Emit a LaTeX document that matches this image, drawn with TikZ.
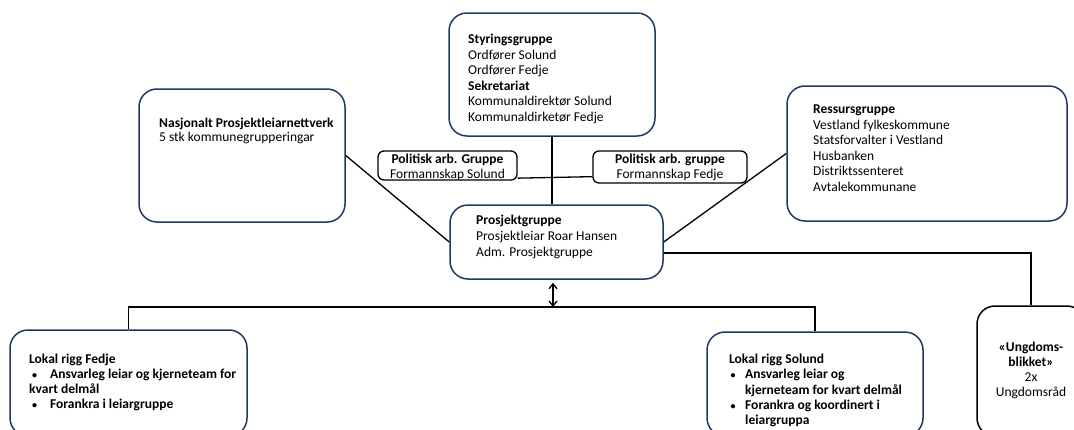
\documentclass[tikz,border=0pt]{standalone}
\usepackage{fontspec}
\setmainfont{Carlito}
\usetikzlibrary{arrows.meta,calc}
\definecolor{navy}{RGB}{32,56,100}
\newcommand\bulA{\makebox[21pt][l]{\hspace{3pt}{\fontsize{10}{10}\selectfont\textbullet}}}
\newcommand\bulB{\makebox[16pt][l]{\hspace{1.5pt}{\fontsize{10}{10}\selectfont\textbullet}}}
\tikzset{
  box/.style={draw=navy, line width=1.5pt, rounded corners=18pt, inner sep=0pt},
  smallbox/.style={draw=black, line width=1.3pt, rounded corners=6pt, inner sep=0pt},
  blackbox/.style={draw=black, line width=1.5pt, rounded corners=18pt, inner sep=0pt},
  txt/.style={anchor=base west, inner sep=0pt, font=\fontsize{13.5}{15.6}\selectfont},
  ctxt/.style={anchor=base, inner sep=0pt, font=\fontsize{13.5}{15}\selectfont},
  conn/.style={line width=1.3pt, draw=black},
  >={Straight Barb[length=5pt,width=8pt]}
}
\begin{document}
\begin{tikzpicture}[x=1pt,y=-1pt]
\useasboundingbox (0,0) rectangle (1074,429);
\clip (0,0) rectangle (1074,429);
% boxes
\node[box, minimum width=206pt, minimum height=123pt] (sty) at (552,74.5) {};
\node[box, minimum width=206pt, minimum height=133pt] (nas) at (242,155.5) {};
\node[box, minimum width=280pt, minimum height=135pt] (res) at (927,153.5) {};
\node[smallbox, minimum width=139pt, minimum height=29pt] (pl) at (447.5,165.5) {};
\node[smallbox, minimum width=154pt, minimum height=32pt] (pr) at (670,167) {};
\node[box, minimum width=213pt, minimum height=74pt] (pro) at (556.5,242) {};
\node[box, minimum width=237pt, minimum height=106pt] (fed) at (128.5,383) {};
\node[box, minimum width=216pt, minimum height=104pt] (sol) at (815,384) {};
\node[blackbox, minimum width=108pt, minimum height=130pt] (ung) at (1031,371) {};
% texts
\node[txt] (styt) at (468,43.5) {\begin{tabular}[t]{@{}l@{}}\textbf{Styringsgruppe}\\Ordfører Solund\\Ordfører Fedje\\\textbf{Sekretariat}\\Kommunaldirektør Solund\\Kommunaldirketør Fedje\end{tabular}};
\node[txt, font=\fontsize{13.5}{13.5}\selectfont] (nast) at (159,127.5) {\begin{tabular}[t]{@{}l@{}}\textbf{Nasjonalt Prosjektleiarnettverk}\\5 stk kommunegrupperingar\end{tabular}};
\node[txt] (rest) at (813,113.5) {\begin{tabular}[t]{@{}l@{}}\textbf{Ressursgruppe}\\Vestland fylkeskommune\\Statsforvalter i Vestland\\Husbanken\\Distriktssenteret\\Avtalekommunane\end{tabular}};
\node[ctxt] (plt) at (447.5,163.5) {\begin{tabular}[t]{@{}c@{}}\textbf{Politisk arb. Gruppe}\\Formannskap Solund\end{tabular}};
\node[ctxt] (prt) at (670,163.5) {\begin{tabular}[t]{@{}c@{}}\textbf{Politisk arb. gruppe}\\Formannskap Fedje\end{tabular}};
\node[txt, font=\fontsize{13.5}{16}\selectfont] (prot) at (476,224.5) {\begin{tabular}[t]{@{}l@{}}\textbf{Prosjektgruppe}\\Prosjektleiar Roar Hansen\\Adm. Prosjektgruppe\end{tabular}};
\node[txt, font=\fontsize{13.5}{15}\selectfont\bfseries] (fedt) at (29,363.5) {\begin{tabular}[t]{@{}l@{}}Lokal rigg Fedje\\\bulA Ansvarleg leiar og kjerneteam for\\kvart delmål\\\bulA Forankra i leiargruppe\end{tabular}};
\node[txt, font=\fontsize{13.5}{15.3}\selectfont\bfseries] (solt) at (729,363.5) {\begin{tabular}[t]{@{}l@{}}Lokal rigg Solund\\\bulB Ansvarleg leiar og\\\hspace{16pt}kjerneteam for kvart delmål\\\bulB Forankra og koordinert i\\\hspace{16pt}leiargruppa\end{tabular}};
\node[ctxt] (ungt) at (1031,351.5) {\begin{tabular}[t]{@{}c@{}}\textbf{«Ungdoms-}\\\textbf{blikket»}\\2x\\Ungdomsråd\end{tabular}};
% connectors
\coordinate (bus) at (553,307);
\draw[conn] (sty.south) -- (sty.south |- pro.north);
\draw[conn] (nas.east) -- (pro.west);
\draw[conn] (res.west) -- (pro.east);
\draw[conn] ($(pl.south east)+(0,-2.5)$) -- ($(pr.south west)+(0,-7)$);
\draw[conn] ($(pro.east)+(0,11)$) -| (ung.north);
\draw[conn] (fed.north) |- (bus) -| (sol.north);
\draw[conn, <->] ($(bus |- pro.south)+(0,3)$) -- (bus);
\end{tikzpicture}
\end{document}
